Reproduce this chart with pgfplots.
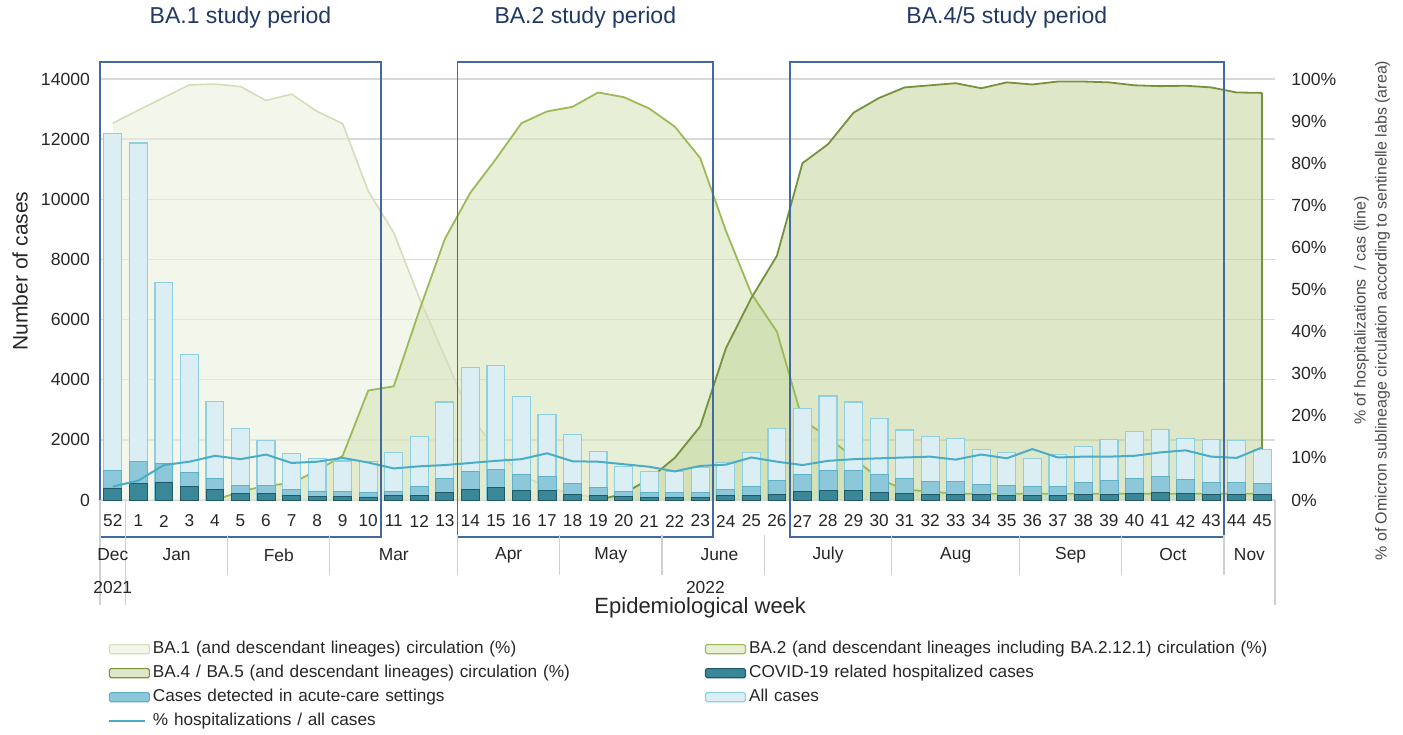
\documentclass[border=0pt]{standalone}
\usepackage{fontspec}
\setmainfont{Liberation Sans}
\usepackage{pgfplots}
\pgfplotsset{compat=1.18}
\usepackage{pgfplotstable}

\definecolor{gridc}{HTML}{D9D9D9}
\definecolor{sepc}{HTML}{D0D0D0}
\definecolor{txt}{HTML}{262626}
\definecolor{ttl}{HTML}{1F3864}
\definecolor{boxc}{HTML}{4468A0}
\definecolor{baOneF}{HTML}{EBF0DC}
\definecolor{baOneL}{HTML}{D5DDB8}
\definecolor{baTwoF}{HTML}{D7E4BD}
\definecolor{baTwoL}{HTML}{9BBB59}
\definecolor{baFourF}{HTML}{C3D69B}
\definecolor{baFourL}{HTML}{76923C}
\definecolor{allF}{HTML}{DAEEF3}
\definecolor{allL}{HTML}{8ECFE0}
\definecolor{acuF}{HTML}{8CC8D9}
\definecolor{acuL}{HTML}{5FB0C8}
\definecolor{hosF}{HTML}{3A8798}
\definecolor{hosL}{HTML}{215968}
\definecolor{lineC}{HTML}{4BACC6}

\pgfplotstableread{
i all acute hosp pct
0 12200 970 400 3.2
1 11870 1280 550 4.6
2 7240 1230 600 8.3
3 4840 920 440 9.1
4 3270 710 340 10.5
5 2390 490 230 9.7
6 1990 475 220 10.8
7 1550 355 145 8.8
8 1380 300 120 9.1
9 1300 270 110 10.0
10 1270 250 100 8.9
11 1580 276 144 7.5
12 2110 442 166 8.0
13 3260 718 254 8.3
14 4400 950 365 8.8
15 4475 1028 420 9.3
16 3436 862 309 9.7
17 2830 773 309 11.1
18 2190 564 199 9.2
19 1600 420 144 9.1
20 1105 287 110 8.5
21 950 254 88 7.9
22 940 254 88 6.8
23 1083 254 88 8.1
24 1250 343 144 8.4
25 1580 442 166 10.1
26 2376 641 199 9.1
27 3040 840 276 8.3
28 3460 972 309 9.3
29 3260 972 309 9.7
30 2718 862 254 9.9
31 2331 718 221 10.1
32 2100 608 199 10.3
33 2055 608 199 9.6
34 1690 530 177 10.8
35 1580 475 166 9.9
36 1392 442 144 12.1
37 1525 442 144 10.1
38 1779 586 199 10.3
39 2022 641 199 10.3
40 2265 718 221 10.5
41 2354 773 254 11.3
42 2055 674 221 11.8
43 2022 586 199 10.3
44 1967 586 177 10.0
45 1690 564 177 12.5
}\casesdata

\pgfplotstableread{
i v
0 89.5
1 92.6
2 95.6
3 98.6
4 98.8
5 98.2
6 94.9
7 96.4
8 92.3
9 89.4
10 73.4
11 63.5
12 48
13 34
14 20
15 12
16 6
17 3
18 1.5
19 0.5
20 0
}\baone

\pgfplotstableread{
i v
4 0
5 2
6 3.4
7 4
8 7
9 10.5
10 26
11 27
12 45
13 62
14 73
15 81
16 89.5
17 92.3
18 93.4
19 96.8
20 95.7
21 93
22 88.7
23 81.2
24 64
25 49
26 40
27 19
28 15
29 10
30 5
31 2.5
32 2
33 1.5
34 1.5
35 1.5
36 1.5
37 1.5
38 1.5
39 1.5
40 1.5
41 1.5
42 1.5
43 1.5
44 1.5
45 1.5
}\batwo

\pgfplotstableread{
i v
19 0
20 1.5
21 5
22 10
23 17.5
24 36
25 48
26 58
27 80
28 84.5
29 92
30 95.5
31 98
32 98.5
33 99
34 97.8
35 99.2
36 98.7
37 99.4
38 99.4
39 99.2
40 98.5
41 98.3
42 98.4
43 98
44 96.8
45 96.7
}\bafour

\pgfplotsset{
  base/.style={scale only axis, width=587.5pt, height=210.5pt,
    xmin=-0.5, xmax=45.5, clip=false, at={(0,0)}, anchor=south west,
    scaled y ticks=false, scaled x ticks=false},
  areaicon/.style={legend image code/.code={\draw[##1, line width=0.6pt, rounded corners=0.8pt] (0pt,-2.3pt) rectangle (20pt,2.3pt);}},
  lineicon/.style={legend image code/.code={\draw[##1] (0pt,0pt) -- (18pt,0pt);}},
}

\newcommand{\tickfont}{\fontsize{8.8}{10}\selectfont}

\begin{document}
\begin{tikzpicture}
\useasboundingbox (-50pt,-117pt) rectangle (651.5pt,250pt);

% left axis with grid
\begin{axis}[base, ymin=0, ymax=14000,
  ytick={0,2000,4000,6000,8000,10000,12000,14000},
  yticklabels={0,2000,4000,6000,8000,10000,12000,14000},
  ymajorgrids, grid style={gridc, line width=0.75pt},
  axis line style={draw=none}, major tick length=0,
  xtick={0,...,45},
  xticklabels={52,1,2,3,4,5,6,7,8,9,10,11,12,13,14,15,16,17,18,19,20,21,22,23,24,25,26,27,28,29,30,31,32,33,34,35,36,37,38,39,40,41,42,43,44,45},
  xticklabel style={anchor=center, yshift=-10.5pt, font=\fontsize{8.6}{10}\selectfont, text=txt},
  yticklabel style={font=\tickfont, text=txt, xshift=-1.5pt},
]
\addplot[draw=none, forget plot] coordinates {(0,0) (45,0)};
\node[rotate=90, font=\fontsize{10.5}{12}\selectfont, text=txt] at (axis description cs:-0.068,0.544) {Number of cases};
\end{axis}

% right axis with lineage areas
\begin{axis}[base, ymin=0, ymax=100,
  axis y line*=right, axis x line=none, xtick=\empty,
  ytick={0,10,20,30,40,50,60,70,80,90,100},
  yticklabels={0\%,10\%,20\%,30\%,40\%,50\%,60\%,70\%,80\%,90\%,100\%},
  axis line style={draw=none}, major tick length=0,
  yticklabel style={font=\tickfont, text=txt, xshift=4.6pt},
]
\addplot[fill=baOneF, fill opacity=0.6, draw=none] table[x=i,y=v]{\baone} \closedcycle;
\addplot[fill=baTwoF, fill opacity=0.6, draw=none] table[x=i,y=v]{\batwo} \closedcycle;
\addplot[fill=baFourF, fill opacity=0.55, draw=none] table[x=i,y=v]{\bafour} \closedcycle;
\addplot[baOneL, line width=0.8pt] table[x=i,y=v]{\baone};
\addplot[baTwoL, line width=0.9pt] table[x=i,y=v]{\batwo};
\addplot[baFourL, line width=0.9pt] table[x=i,y=v]{\bafour};
\addplot[baFourL, line width=0.9pt] coordinates {(45,96.7) (45,0)};
\node[rotate=90, align=center, font=\fontsize{8}{10.5}\selectfont, text=black!70] at (axis description cs:1.0826,0.45)
  {\% of hospitalizations \ / cas (line)\\\% of Omicron sublineage circulation according to sentinelle labs (area)};
\end{axis}

% bars
\begin{axis}[base, hide axis, ymin=0, ymax=14000]
\addplot[ybar, bar shift=0pt, bar width=0.7, fill=allF, draw=allL, line width=0.6pt] table[x=i,y=all]{\casesdata};
\addplot[ybar, bar shift=0pt, bar width=0.7, fill=acuF, draw=acuL, line width=0.4pt] table[x=i,y=acute]{\casesdata};
\addplot[ybar, bar shift=0pt, bar width=0.7, fill=hosF, draw=hosL, line width=0.4pt] table[x=i,y=hosp]{\casesdata};
\end{axis}

% hospitalisation line, annotations, legend
\begin{axis}[base, hide axis, ymin=0, ymax=100,
  legend columns=2,
  legend cell align=left,
  legend style={at={(axis description cs:0.0068,-0.325)}, anchor=north west,
    draw=none, fill=none, inner sep=0pt, row sep=0pt,
    font=\fontsize{8.6}{10}\selectfont,
    nodes={text=txt, text height=6.5pt, text depth=1.8pt, inner ysep=1.85pt, inner xsep=1.5pt, text width=274.5pt}},
]
\addplot[lineC, line width=1pt, forget plot] table[x=i,y=pct]{\casesdata};

\addlegendimage{areaicon, fill=baOneF!60, draw=baOneL}
\addlegendimage{areaicon, fill=baTwoF!60, draw=baTwoL}
\addlegendimage{areaicon, fill=baFourF!55, draw=baFourL}
\addlegendimage{areaicon, fill=hosF, draw=hosL}
\addlegendimage{areaicon, fill=acuF, draw=acuL}
\addlegendimage{areaicon, fill=allF, draw=allL}
\addlegendimage{lineicon, lineC, line width=1pt}
\legend{BA.1 (and descendant lineages) circulation (\%),
  BA.2 (and descendant lineages including BA.2.12.1) circulation (\%),
  BA.4 / BA.5 (and descendant lineages) circulation (\%),
  COVID-19 related hospitalized cases,
  Cases detected in acute-care settings,
  All cases,
  \% hospitalizations / all cases}

% study boxes
\draw[boxc, line width=0.85pt] (axis cs:-0.5,-8.8) rectangle (axis cs:10.5,104.0);
\draw[boxc, line width=0.85pt] (axis cs:13.5,-8.8) rectangle (axis cs:23.5,104.0);
\draw[boxc, line width=0.85pt] (axis cs:26.5,-8.8) rectangle (axis cs:43.5,104.0);
\node[font=\fontsize{11.5}{13}\selectfont, text=ttl] at (axis cs:5,114.5) {BA.1 study period};
\node[font=\fontsize{11.5}{13}\selectfont, text=ttl] at (axis cs:18.5,114.5) {BA.2 study period};
\node[font=\fontsize{11.5}{13}\selectfont, text=ttl] at (axis cs:35,114.5) {BA.4/5 study period};

% month separators
\foreach \s in {4.5,8.5,13.5,17.5,21.5,25.5,30.5,35.5,39.5,43.5}{
  \edef\tmp{\noexpand\draw[sepc, line width=0.6pt] (axis cs:\s,-8.3) -- (axis cs:\s,-17.8);}\tmp
}
\foreach \s in {-0.5,0.5,45.5}{
  \edef\tmp{\noexpand\draw[sepc, line width=0.6pt] (axis cs:\s,0) -- (axis cs:\s,-25);}\tmp
}
% months
\foreach \m/\p in {Dec/0,Jan/2.5,Feb/6.5,Mar/11,Apr/15.5,May/19.5,June/23.75,July/28,Aug/33,Sep/37.5,Oct/41.5,Nov/44.5}{
  \edef\tmp{\noexpand\node[font=\noexpand\fontsize{8.7}{10}\noexpand\selectfont, text=txt] at (axis cs:\p,-13.06) {\m};}\tmp
}
\node[font=\fontsize{8.7}{10}\selectfont, text=txt] at (axis cs:0,-20.9) {2021};
\node[font=\fontsize{8.7}{10}\selectfont, text=txt] at (axis cs:23.2,-20.9) {2022};
\node[font=\fontsize{11}{13}\selectfont, text=txt] at (axis cs:23,-25.65) {Epidemiological week};
\end{axis}
\end{tikzpicture}
\end{document}
